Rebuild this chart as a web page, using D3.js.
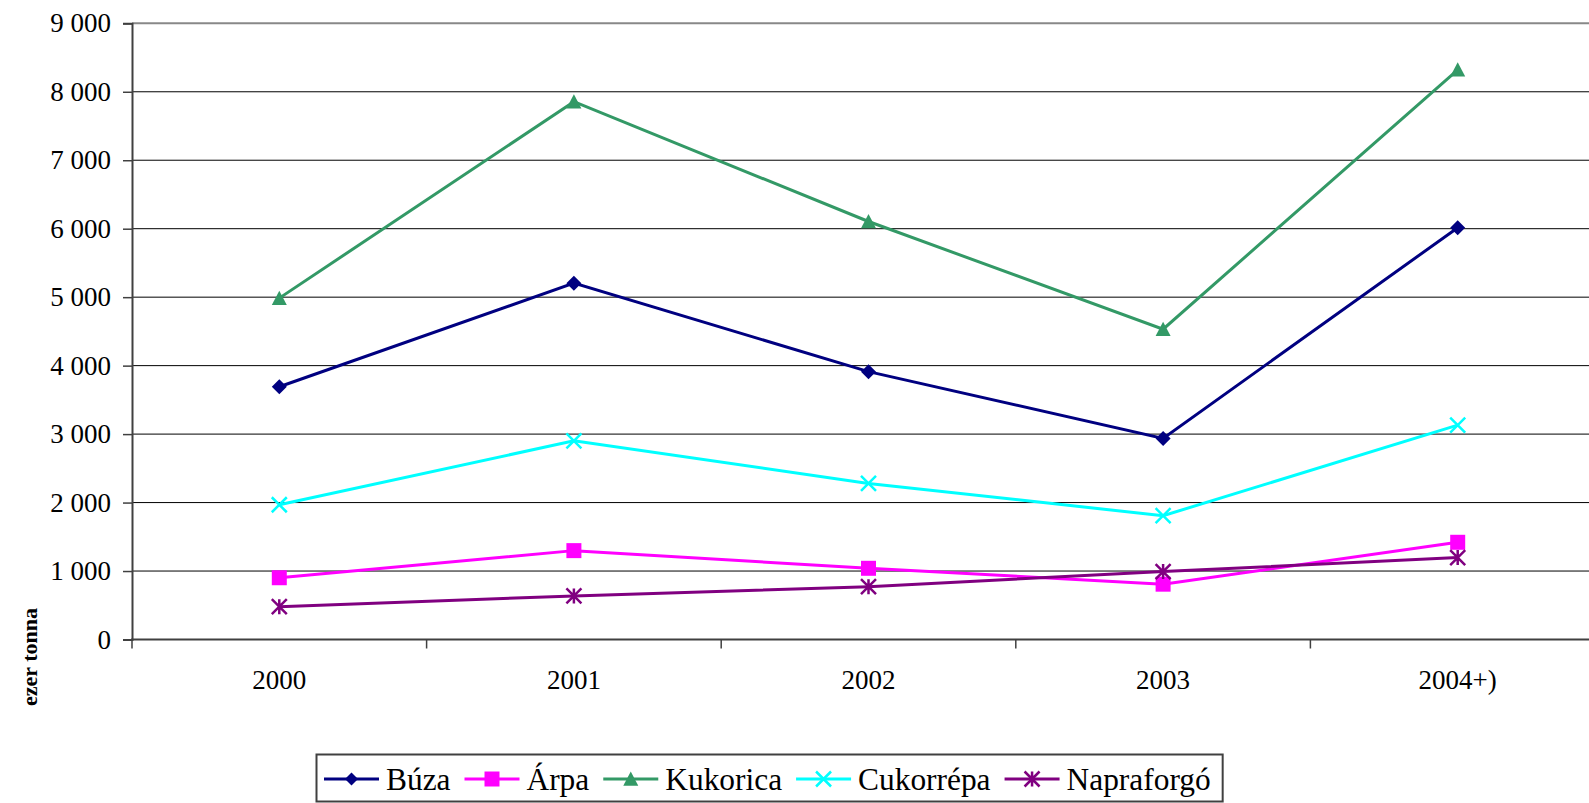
<!DOCTYPE html>
<html>
<head>
<meta charset="utf-8">
<script src="https://cdn.jsdelivr.net/npm/d3@7"></script>
<style>
  body { margin: 0; background: #fff; }
  svg { display: block; }
  svg text { font-family: "Liberation Serif", "Times New Roman", serif; fill: #000; }
</style>
</head>
<body>
<div id="chart"></div>
<script>
// chart values (ezer tonna)
const years = ['2000', '2001', '2002', '2003', '2004+)'];
const buza = [3692, 5205, 3912, 2937, 6015];
const arpa = [902, 1298, 1040, 808, 1420];
const kukorica = [4986, 7855, 6105, 4532, 8320];
const cukorrepa = [1968, 2902, 2280, 1808, 3132];
const napraforgo = [480, 636, 772, 992, 1196];
const yTicks = [0, 1000, 2000, 3000, 4000, 5000, 6000, 7000, 8000, 9000];
const seriesNames = ['Búza', 'Árpa', 'Kukorica', 'Cukorrépa', 'Napraforgó'];

const width = 1589;
const height = 803;

const series = [
  { name: seriesNames[0], values: buza, color: '#000080', marker: 'diamond' },
  { name: seriesNames[1], values: arpa, color: '#ff00ff', marker: 'square' },
  { name: seriesNames[2], values: kukorica, color: '#339966', marker: 'triangle' },
  { name: seriesNames[3], values: cukorrepa, color: '#00ffff', marker: 'times' },
  { name: seriesNames[4], values: napraforgo, color: '#800080', marker: 'asterisk' },
];

// marker shapes, size = full width in px
const shapes = {
  diamond: { draw(ctx, s) { const r = s / 2; ctx.moveTo(0, -r); ctx.lineTo(r, 0); ctx.lineTo(0, r); ctx.lineTo(-r, 0); ctx.closePath(); } },
  square: { draw(ctx, s) { const r = s / 2; ctx.rect(-r, -r, s, s); } },
  triangle: { draw(ctx, s) { const r = s / 2; ctx.moveTo(0, -r); ctx.lineTo(r, r * 0.9); ctx.lineTo(-r, r * 0.9); ctx.closePath(); } },
  times: { draw(ctx, s) { const r = s / 2; ctx.moveTo(-r, -r); ctx.lineTo(r, r); ctx.moveTo(-r, r); ctx.lineTo(r, -r); } },
  asterisk: { draw(ctx, s) { const r = s / 2; ctx.moveTo(-r, -r); ctx.lineTo(r, r); ctx.moveTo(-r, r); ctx.lineTo(r, -r); ctx.moveTo(0, -r); ctx.lineTo(0, r); } },
};
const filled = { diamond: true, square: true, triangle: true, times: false, asterisk: false };

function markerPath(type, s) {
  const p = d3.path();
  shapes[type].draw(p, s);
  return p.toString();
}

const svg = d3.select('#chart')
  .append('svg')
  .attr('width', width)
  .attr('height', height);

// plot area runs past the right edge (clipped like the original)
const xScale = d3.scaleBand()
  .domain(years)
  .range([132, 1605]);

const yScale = d3.scaleLinear()
  .domain([0, 9000])
  .range([639.5, 23.3]);

// gridlines
svg.append('g')
  .attr('class', 'gridlines')
  .selectAll('line')
  .data(yTicks.filter(d => d > 0))
  .join('line')
  .attr('x1', 132)
  .attr('x2', width)
  .attr('y1', d => yScale(d))
  .attr('y2', d => yScale(d))
  .attr('stroke', d => d === 9000 ? '#888' : '#000')
  .attr('stroke-width', d => d === 9000 ? 2 : 1);

// Y axis
const yAxis = d3.axisLeft(yScale)
  .tickValues(yTicks)
  .tickSize(9)
  .tickPadding(12)
  .tickFormat(d => d3.format(',')(d).replace(',', ' '));

const gy = svg.append('g')
  .attr('transform', 'translate(132, 0)')
  .call(yAxis);
gy.attr('font-family', null);
gy.select('.domain').attr('stroke', '#404040').attr('stroke-width', 2);
gy.selectAll('.tick line').attr('stroke', '#404040').attr('stroke-width', 1.5);
gy.selectAll('text')
  .attr('font-size', 27);

// X axis: ticks between categories
const xAxisG = svg.append('g').attr('class', 'x-axis');
xAxisG.append('line')
  .attr('x1', 131)
  .attr('x2', width)
  .attr('y1', yScale(0))
  .attr('y2', yScale(0))
  .attr('stroke', '#404040')
  .attr('stroke-width', 2);
xAxisG.selectAll('line.tick')
  .data(years)
  .join('line')
  .attr('class', 'tick')
  .attr('x1', d => xScale(d) + xScale.bandwidth())
  .attr('x2', d => xScale(d) + xScale.bandwidth())
  .attr('y1', yScale(0))
  .attr('y2', yScale(0) + 9)
  .attr('stroke', '#404040')
  .attr('stroke-width', 1.5);
xAxisG.append('line')
  .attr('x1', 132).attr('x2', 132)
  .attr('y1', yScale(0)).attr('y2', yScale(0) + 9)
  .attr('stroke', '#404040').attr('stroke-width', 1.5);
xAxisG.selectAll('text')
  .data(years)
  .join('text')
  .attr('x', d => xScale(d) + xScale.bandwidth() / 2)
  .attr('y', 689)
  .attr('text-anchor', 'middle')
  .attr('font-size', 27)
  .text(d => d);

// Y axis title
svg.append('text')
  .attr('transform', 'translate(37, 657) rotate(-90)')
  .attr('text-anchor', 'middle')
  .attr('font-size', 22)
  .attr('font-weight', 'bold')
  .text('ezer tonna');

// lines + markers
const line = d3.line()
  .x((d, i) => xScale(years[i]) + xScale.bandwidth() / 2)
  .y(d => yScale(d));

const lines = svg.append('g').attr('class', 'series');
series.forEach(s => {
  const g = lines.append('g');
  g.append('path')
    .attr('d', line(s.values))
    .attr('fill', 'none')
    .attr('stroke', s.color)
    .attr('stroke-width', 3);
  g.selectAll('path.marker')
    .data(s.values)
    .join('path')
    .attr('class', 'marker')
    .attr('transform', (d, i) => `translate(${xScale(years[i]) + xScale.bandwidth() / 2}, ${yScale(d)})`)
    .attr('d', markerPath(s.marker, 15))
    .attr('fill', filled[s.marker] ? s.color : 'none')
    .attr('stroke', s.color)
    .attr('stroke-width', filled[s.marker] ? 0 : 2.5);
});

// legend
const legend = svg.append('g').attr('class', 'legend');
const box = legend.append('rect')
  .attr('x', 316.5)
  .attr('y', 754.5)
  .attr('height', 47)
  .attr('fill', '#fff')
  .attr('stroke', '#404040')
  .attr('stroke-width', 2);

let lx = 324;
series.forEach(s => {
  const g = legend.append('g');
  g.append('line')
    .attr('x1', lx).attr('x2', lx + 55)
    .attr('y1', 779).attr('y2', 779)
    .attr('stroke', s.color)
    .attr('stroke-width', 3);
  g.append('path')
    .attr('transform', `translate(${lx + 27.5}, 779)`)
    .attr('d', markerPath(s.marker, s.marker === 'diamond' ? 13 : 15))
    .attr('fill', filled[s.marker] ? s.color : 'none')
    .attr('stroke', s.color)
    .attr('stroke-width', filled[s.marker] ? 0 : 2.5);
  const t = g.append('text')
    .attr('x', lx + 62)
    .attr('y', 790)
    .attr('font-size', 31.4)
    .text(s.name);
  lx += 62 + t.node().getComputedTextLength() + 14;
});
box.attr('width', lx - 14 + 12 - 316.5);
</script>
</body>
</html>
